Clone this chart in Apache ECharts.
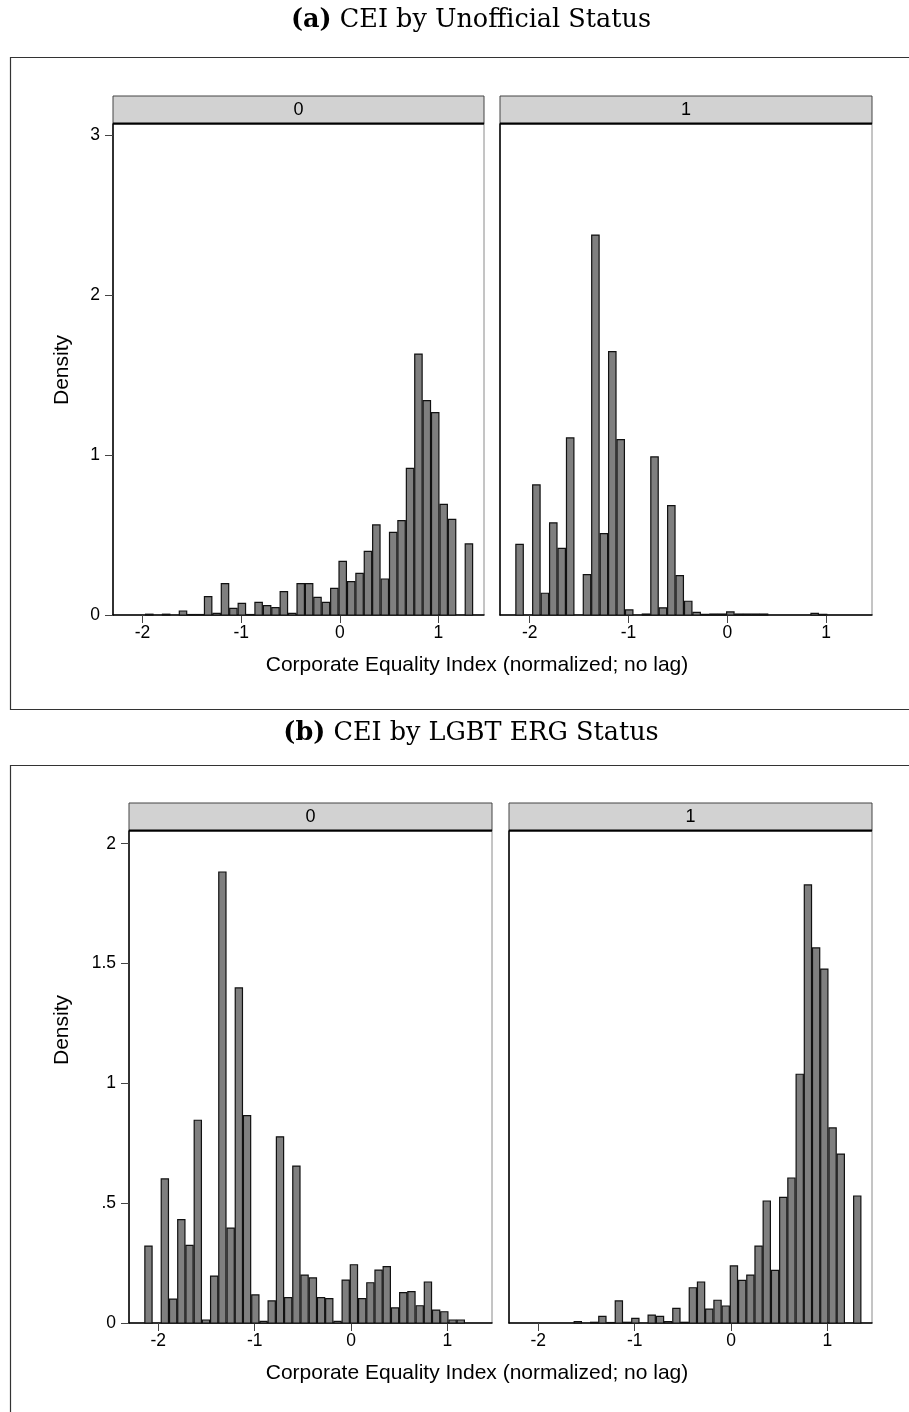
<!DOCTYPE html>
<html>
<head>
<meta charset="utf-8">
<script src="https://cdn.jsdelivr.net/npm/echarts@6/dist/echarts.min.js"></script>
<style>
  html, body { margin: 0; padding: 0; background: #fff; }
  #chart { width: 909px; height: 1412px; }
</style>
</head>
<body>
<div id="chart"></div>
<script>
// bin centres of the histogram (CEI, normalized)
const binCenters = [
  -2.102, -2.017, -1.932, -1.846, -1.761, -1.676, -1.590, -1.505, -1.420, -1.335,
  -1.249, -1.164, -1.079, -0.993, -0.908, -0.823, -0.737, -0.652, -0.567, -0.482,
  -0.396, -0.311, -0.226, -0.140, -0.055, 0.030, 0.116, 0.201, 0.286, 0.371,
  0.457, 0.542, 0.627, 0.713, 0.798, 0.883, 0.968, 1.054, 1.139, 1.224, 1.310
];

// (a) unofficial status = 0 / 1
const unofficial0 = [
  0, 0, 0.005, 0, 0.005, 0, 0.025, 0.003, 0.003, 0.115,
  0.01, 0.196, 0.042, 0.073, 0.003, 0.079, 0.058, 0.046, 0.146, 0.01,
  0.196, 0.196, 0.11, 0.079, 0.167, 0.335, 0.208, 0.26, 0.398, 0.563,
  0.225, 0.517, 0.59, 0.917, 1.631, 1.34, 1.265, 0.692, 0.598, 0, 0.444
];
const unofficial1 = [
  0.442, 0, 0.813, 0.136, 0.576, 0.416, 1.107, 0, 0.252, 2.375,
  0.509, 1.646, 1.096, 0.032, 0, 0.006, 0.988, 0.045, 0.684, 0.246,
  0.086, 0.017, 0.004, 0.006, 0.006, 0.019, 0.006, 0.006, 0.006, 0.006,
  0, 0, 0, 0, 0, 0.01, 0.004, 0, 0, 0, 0
];

// (b) LGBT ERG status = 0 / 1
const erg0 = [
  0.321, 0, 0.601, 0.100, 0.431, 0.324, 0.846, 0.0125, 0.196, 1.882,
  0.396, 1.398, 0.865, 0.117, 0.007, 0.092, 0.777, 0.106, 0.655, 0.200,
  0.188, 0.106, 0.102, 0.007, 0.179, 0.243, 0.102, 0.168, 0.221, 0.235,
  0.063, 0.127, 0.131, 0.072, 0.171, 0.054, 0.047, 0.0125, 0.0125, 0, 0
];
const erg1 = [
  0, 0, 0, 0, 0, 0, 0.006, 0, 0.003, 0.028,
  0.002, 0.092, 0.003, 0.019, 0, 0.033, 0.028, 0.006, 0.061, 0.003,
  0.147, 0.171, 0.058, 0.095, 0.071, 0.238, 0.178, 0.200, 0.321, 0.509,
  0.220, 0.524, 0.605, 1.038, 1.828, 1.565, 1.477, 0.814, 0.705, 0, 0.530
];

const xTicks = [-2, -1, 0, 1];
const yTicksA = [0, 1, 2, 3];
const yTicksB = [0, 0.5, 1, 1.5, 2];
const stripLabels = ['0', '1'];

const SANS = '"Liberation Sans", Arial, sans-serif';
const SERIF = '"DejaVu Serif", serif';
const HALF_BAR = 0.0375;

// facet layout
const facets = [
  { data: unofficial0, left: 113, top: 124, width: 371, height: 491, xMin: -2.30, xMax: 1.463, yMax: 3.069, yTicks: yTicksA, first: true, strip: 96 },
  { data: unofficial1, left: 500, top: 124, width: 372, height: 491, xMin: -2.30, xMax: 1.463, yMax: 3.069, yTicks: yTicksA, first: false, strip: 96 },
  { data: erg0, left: 129, top: 831, width: 363, height: 492, xMin: -2.304, xMax: 1.463, yMax: 2.053, yTicks: yTicksB, first: true, strip: 803 },
  { data: erg1, left: 509, top: 831, width: 363, height: 492, xMin: -2.304, xMax: 1.463, yMax: 2.053, yTicks: yTicksB, first: false, strip: 803 }
];

const chart = echarts.init(document.getElementById('chart'));

const grids = [], xAxes = [], yAxes = [], series = [], graphics = [];

facets.forEach((f, i) => {
  grids.push({
    left: f.left, top: f.top, width: f.width, height: f.height,
    show: true, borderColor: '#8a8a8a', borderWidth: 1, backgroundColor: '#fff'
  });
  xAxes.push({
    type: 'value', gridIndex: i, min: f.xMin, max: f.xMax,
    splitLine: { show: false },
    axisLine: { show: true, onZero: false, lineStyle: { color: '#000', width: 1.5 } },
    axisTick: { show: true, customValues: xTicks, length: 8, lineStyle: { color: '#444', width: 1 } },
    axisLabel: { show: true, customValues: xTicks, margin: 9, color: '#000', fontSize: 17.5, fontFamily: SANS }
  });
  yAxes.push({
    type: 'value', gridIndex: i, min: 0, max: f.yMax,
    splitLine: { show: false },
    axisLine: { show: true, onZero: false, lineStyle: { color: '#000', width: 1.5 } },
    axisTick: { show: f.first, customValues: f.yTicks, length: 8, lineStyle: { color: '#444', width: 1 } },
    axisLabel: {
      show: f.first, customValues: f.yTicks, margin: 13, color: '#000', fontSize: 17.5, fontFamily: SANS,
      formatter: v => String(v).replace(/^0\./, '.')
    }
  });
  series.push({
    type: 'custom', xAxisIndex: i, yAxisIndex: i,
    data: binCenters.map((c, k) => [c, f.data[k]]).filter(d => d[1] > 0),
    renderItem: (params, api) => {
      const x = api.value(0), h = api.value(1);
      const p0 = api.coord([x - HALF_BAR, h]);
      const p1 = api.coord([x + HALF_BAR, 0]);
      return {
        type: 'rect',
        shape: { x: p0[0], y: p0[1], width: p1[0] - p0[0], height: p1[1] - p0[1] },
        style: { fill: '#7f7f7f', stroke: '#111', lineWidth: 1.2 }
      };
    }
  });
  // facet strip
  graphics.push({
    type: 'rect', shape: { x: f.left, y: f.strip, width: f.width, height: f.top - f.strip },
    style: { fill: '#d2d2d2', stroke: '#444', lineWidth: 1 }
  });
  graphics.push({
    type: 'line', shape: { x1: f.left, y1: f.top - 0.5, x2: f.left + f.width, y2: f.top - 0.5 },
    style: { stroke: '#000', lineWidth: 2 }
  });
  graphics.push({
    type: 'text', x: f.left + f.width / 2, y: (f.strip + f.top) / 2,
    style: { text: stripLabels[i % 2], fontSize: 18, fontFamily: SANS, fill: '#000', align: 'center', verticalAlign: 'middle' }
  });
});

// panel frames
graphics.push({
  type: 'polyline', shape: { points: [[909, 57.5], [10.5, 57.5], [10.5, 709.5], [909, 709.5]] },
  style: { stroke: '#333', lineWidth: 1.2, fill: null }
});
graphics.push({
  type: 'polyline', shape: { points: [[909, 765.5], [10.5, 765.5], [10.5, 1412]] },
  style: { stroke: '#333', lineWidth: 1.2, fill: null }
});

// panel titles
const panelTitles = [
  { tag: '(a)', text: ' CEI by Unofficial Status', y: 20 },
  { tag: '(b)', text: ' CEI by LGBT ERG Status', y: 733 }
];
panelTitles.forEach(t => {
  graphics.push({
    type: 'text', x: 471, y: t.y,
    style: {
      text: '{b|' + t.tag + '}' + t.text, fontSize: 25.5, fontFamily: SERIF, fill: '#000',
      align: 'center', verticalAlign: 'middle',
      rich: { b: { fontSize: 25.5, fontFamily: SERIF, fontWeight: 'bold' } }
    }
  });
});

// axis titles
const xTitle = 'Corporate Equality Index (normalized; no lag)';
[665, 1373].forEach(y => {
  graphics.push({
    type: 'text', x: 477, y: y,
    style: { text: xTitle, fontSize: 21, fontFamily: SANS, fill: '#000', align: 'center', verticalAlign: 'middle' }
  });
});
[370, 1030].forEach(y => {
  graphics.push({
    type: 'text', x: 62, y: y, rotation: Math.PI / 2,
    style: { text: 'Density', fontSize: 21, fontFamily: SANS, fill: '#000', align: 'center', verticalAlign: 'middle' }
  });
});

chart.setOption({
  animation: false,
  backgroundColor: '#fff',
  grid: grids,
  xAxis: xAxes,
  yAxis: yAxes,
  series: series,
  graphic: graphics
});
</script>
</body>
</html>
